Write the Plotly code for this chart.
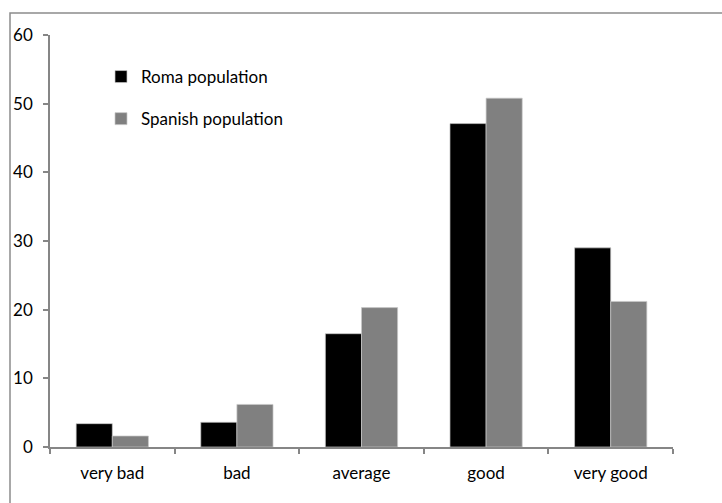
import plotly.graph_objects as go

# Self-rated health, percentage of respondents
categories = ["very bad", "bad", "average", "good", "very good"]
roma = [3.4, 3.6, 16.5, 47.1, 29.0]
spanish = [1.6, 6.2, 20.3, 50.8, 21.2]
y_ticks = [0, 10, 20, 30, 40, 50, 60]

W, H = 722, 503
L, R, T, B = 50, 49, 35, 56
pw, ph = W - L - R, H - T - B

axis_grey = "#868686"
font = dict(family="Lato, 'Open Sans', sans-serif", size=17, color="#000000")

fig = go.Figure()
fig.add_trace(go.Bar(
    x=categories, y=roma, name="Roma population", legendgroup="roma",
    marker=dict(color="#000000", line=dict(color="#c8c8c8", width=0.7)),
))
fig.add_trace(go.Bar(
    x=categories, y=spanish, name="Spanish population", legendgroup="spanish",
    marker=dict(color="#808080", line=dict(color="#c8c8c8", width=0.7)),
))

# outer chart frame (runs past the right and bottom page edges)
fig.add_shape(
    type="rect", xref="paper", yref="paper",
    x0=(10 - L) / pw, x1=(740 - L) / pw,
    y0=-(520 - (T + ph)) / ph, y1=1 + (T - 13) / ph,
    line=dict(color="#8c8c8c", width=1.5), fillcolor="rgba(0,0,0,0)",
    layer="below",
)

fig.update_layout(
    width=W, height=H,
    margin=dict(l=L, r=R, t=T, b=B, pad=0),
    paper_bgcolor="white", plot_bgcolor="white",
    font=font,
    barmode="group", bargap=0.42, bargroupgap=0,
    showlegend=True,
    legend=dict(
        x=(101 - L) / pw, y=1 - (59 - T) / ph, xanchor="left", yanchor="top",
        bgcolor="rgba(0,0,0,0)", font=font, tracegroupgap=17,
        traceorder="grouped",
    ),
    xaxis=dict(
        type="category", showline=True, linecolor=axis_grey, linewidth=1.5,
        ticks="outside", ticklen=5, tickcolor=axis_grey, tickwidth=1.5,
        tickson="boundaries", showgrid=False, zeroline=False,
        ticklabelstandoff=10,
    ),
    yaxis=dict(
        range=[0, 60], tickvals=y_ticks, showline=True, linecolor=axis_grey,
        linewidth=1.5, ticks="outside", ticklen=5, tickcolor=axis_grey,
        tickwidth=1.5, showgrid=False, zeroline=False, ticklabelstandoff=7,
    ),
)

fig.write_html("out.html")
